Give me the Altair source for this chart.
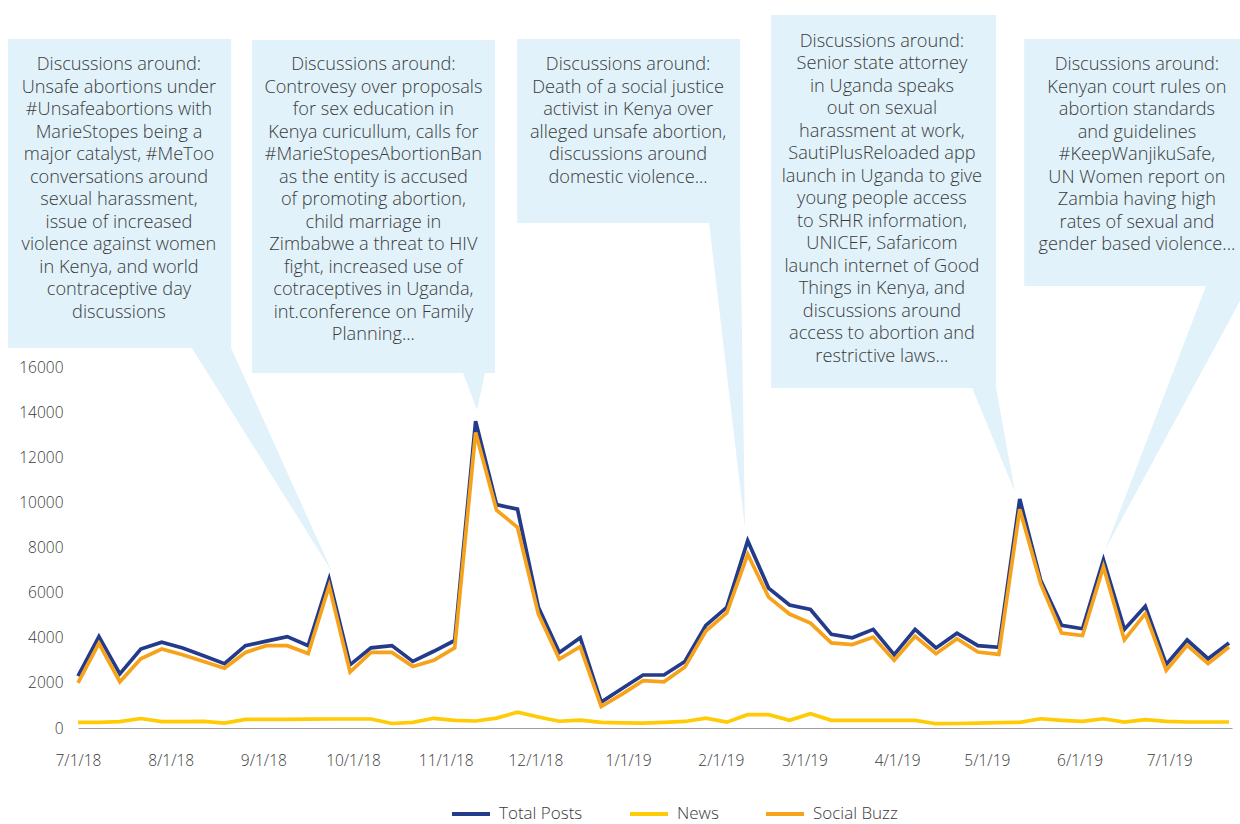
import altair as alt
import pandas as pd

# ---------------- data (weekly, starting 7/1/18) ----------------
start_date = "2018-07-01"
n_weeks = 56

total_posts = [2300, 4050, 2400, 3500, 3800, 3550, 3200, 2850, 3650, 3850,
               4050, 3650, 6600, 2800, 3550, 3650, 2950, 3400, 3880, 13600,
               9900, 9700, 5350, 3350, 4000, 1150, 1750, 2350, 2350, 2950,
               4550, 5350, 8300, 6200, 5450, 5250, 4150, 4000, 4370, 3250,
               4370, 3550, 4200, 3650, 3580, 10150, 6550, 4550, 4400, 7450,
               4370, 5400, 2820, 3900, 3070, 3770]

news = [250, 250, 280, 420, 280, 280, 290, 220, 380, 380,
        380, 390, 400, 400, 400, 200, 250, 430, 340, 310,
        440, 700, 490, 300, 350, 250, 230, 220, 250, 290,
        440, 260, 590, 590, 340, 630, 340, 340, 340, 340,
        340, 190, 200, 220, 240, 250, 410, 340, 290, 410,
        265, 370, 295, 265, 265, 265]

social_buzz = [2000, 3750, 2050, 3070, 3500, 3250, 2950, 2650, 3350, 3650,
               3650, 3300, 6300, 2480, 3350, 3350, 2730, 3000, 3550, 13100,
               9650, 8900, 5050, 3050, 3600, 950, 1500, 2100, 2050, 2700,
               4300, 5100, 7700, 5800, 5050, 4650, 3770, 3700, 4030, 3000,
               4060, 3290, 3960, 3370, 3260, 9700, 6400, 4210, 4100, 7150,
               3910, 5070, 2550, 3660, 2850, 3590]

series_names = ["Total Posts", "News", "Social Buzz"]
series_colors = ["#243b8c", "#ffcb05", "#f6a31b"]

y_ticks = [0, 2000, 4000, 6000, 8000, 10000, 12000, 14000, 16000]

callout_texts = [
    ["Discussions around:", "Unsafe abortions under", "#Unsafeabortions with",
     "MarieStopes being a", "major catalyst, #MeToo", "conversations around",
     "sexual harassment,", "issue of increased", "violence against women",
     "in Kenya, and world", "contraceptive day", "discussions"],
    ["Discussions around:", "Controvesy over proposals", "for sex education in",
     "Kenya curicullum, calls for", "#MarieStopesAbortionBan",
     "as the entity is accused", "of promoting abortion,", "child marriage in",
     "Zimbabwe a threat to HIV", "fight, increased use of",
     "cotraceptives in Uganda,", "int.conference on Family", "Planning..."],
    ["Discussions around:", "Death of a social justice", "activist in Kenya over",
     "alleged unsafe abortion,", "discussions around", "domestic violence..."],
    ["Discussions around:", "Senior state attorney", "in Uganda speaks",
     "out on sexual", "harassment at work,", "SautiPlusReloaded app",
     "launch in Uganda to give", "young people access", "to SRHR information,",
     "UNICEF, Safaricom", "launch internet of Good", "Things in Kenya, and",
     "discussions around", "access to abortion and", "restrictive laws..."],
    ["Discussions around:", "Kenyan court rules on", "abortion standards",
     "and guidelines", "#KeepWanjikuSafe,", "UN Women report on",
     "Zambia having high", "rates of sexual and", "gender based violence..."],
]

# callout geometry in data units (days after 7/1/18, post counts)
box_left_day = [-23.4, 58.2, 146.9, 231.8, 316.5]
box_right_day = [51.2, 139.5, 221.5, 307.1, 393.0]
box_bottom_val = [16842, 15734, 22382, 15069, 19590]
box_top_val = [30537, 30493, 30537, 31601, 30537]
text_day = [13.7, 98.8, 184.0, 268.9, 354.2]
text_base_val = [29163, 29163, 29163, 30183, 29163]
ptr_left_day = [38.1, 128.8, 211.1, 299.1, 377.3]
ptr_right_day = [51.2, 136.1, 221.5, 307.1, 391.4]
ptr_tip_day = [85.0, 133.5, 223.1, 313.4, 343.5]
ptr_tip_val = [6914, 14094, 8864, 10460, 7889]

# ---------------- frames ----------------
t0 = pd.Timestamp(start_date)
dates = pd.date_range(t0, periods=n_weeks, freq="7D")


def day(d):
    return t0 + pd.to_timedelta(d, unit="D")


rows = []
for name, vals in zip(series_names, [total_posts, news, social_buzz]):
    for d, v in zip(dates, vals):
        rows.append({"date": d, "value": v, "series": name})
df = pd.DataFrame(rows)

boxes = pd.DataFrame({
    "x0": [day(d) for d in box_left_day],
    "x1": [day(d) for d in box_right_day],
    "y0": box_bottom_val,
    "y1": box_top_val,
})

texts = pd.DataFrame({
    "x": [day(d) for d in text_day],
    "y": text_base_val,
    "label": ["\n".join(t) for t in callout_texts],
})

# ---------------- scales / axes ----------------
FONT = "Open Sans"
TXT = "#3a3a3a"
CALLOUT = "#e1f2fa"

x_scale = alt.Scale(domain=[alt.DateTime(year=2018, month=7, date=1),
                            alt.DateTime(year=2019, month=7, date=22)], nice=False)
y_scale = alt.Scale(domain=[0, 32000], nice=False, zero=True)

month_ticks = [alt.DateTime(year=2018 + (6 + i) // 12, month=(6 + i) % 12 + 1, date=1)
               for i in range(13)]

x_axis = alt.Axis(values=month_ticks, format="%-m/%-d/%y", title=None, grid=False,
                  ticks=False, domainColor="#9d9d9d", domainWidth=1.2,
                  labelFont=FONT, labelFontSize=15.5, labelFontWeight=300,
                  labelColor=TXT, labelPadding=25, labelAngle=0,
                  labelOverlap=False, labelFlush=False)
y_axis = alt.Axis(values=y_ticks, format="d", title=None, grid=False, ticks=False,
                  domain=False, labelFont=FONT, labelFontSize=15.5,
                  labelFontWeight=300, labelColor=TXT, labelPadding=15)

legend = alt.Legend(title=None, orient="none", legendX=372, legendY=787,
                    direction="horizontal", symbolType="stroke",
                    symbolStrokeWidth=4, symbolSize=1444, labelFont=FONT,
                    labelFontSize=17, labelFontWeight=300, labelColor=TXT,
                    labelOffset=7, columnPadding=39, padding=0)

color = alt.Color("series:N", scale=alt.Scale(domain=series_names, range=series_colors),
                  legend=legend)

box_layer = alt.Chart(boxes).mark_rect(color=CALLOUT).encode(
    x=alt.X("x0:T", scale=x_scale, axis=x_axis),
    x2="x1:T",
    y=alt.Y("y0:Q", scale=y_scale, axis=y_axis),
    y2="y1:Q",
)

ptr_layers = []
for i in range(len(ptr_tip_day)):
    p = pd.DataFrame({
        "v": [box_bottom_val[i], ptr_tip_val[i]],
        "a": [day(ptr_left_day[i]), day(ptr_tip_day[i])],
        "b": [day(ptr_right_day[i]), day(ptr_tip_day[i])],
    })
    ptr_layers.append(
        alt.Chart(p).mark_area(orient="horizontal", color=CALLOUT, opacity=1).encode(
            y=alt.Y("v:Q", scale=y_scale, axis=y_axis),
            x=alt.X("a:T", scale=x_scale, axis=x_axis),
            x2="b:T",
        )
    )

text_layer = alt.Chart(texts).mark_text(
    lineBreak="\n", lineHeight=22.5, align="center", baseline="alphabetic",
    font=FONT, fontSize=18.2, fontWeight=300, color=TXT,
).encode(
    x=alt.X("x:T", scale=x_scale, axis=x_axis),
    y=alt.Y("y:Q", scale=y_scale, axis=y_axis),
    text="label:N",
)

line_base = alt.Chart(df).mark_line(strokeWidth=3.7, strokeJoin="miter").encode(
    x=alt.X("date:T", scale=x_scale, axis=x_axis),
    y=alt.Y("value:Q", scale=y_scale, axis=y_axis),
    color=color,
)
line_layers = [line_base.transform_filter(alt.datum.series == s) for s in series_names]

chart = alt.layer(box_layer, *ptr_layers, text_layer, *line_layers).properties(
    width=1154, height=722,
    autosize=alt.AutoSizeParams(type="none"),
    padding={"left": 78, "top": 6, "right": 8, "bottom": 96},
    background="white",
).configure_view(stroke=None)

chart.save("out.html", embed_options={"renderer": "svg", "actions": False})
